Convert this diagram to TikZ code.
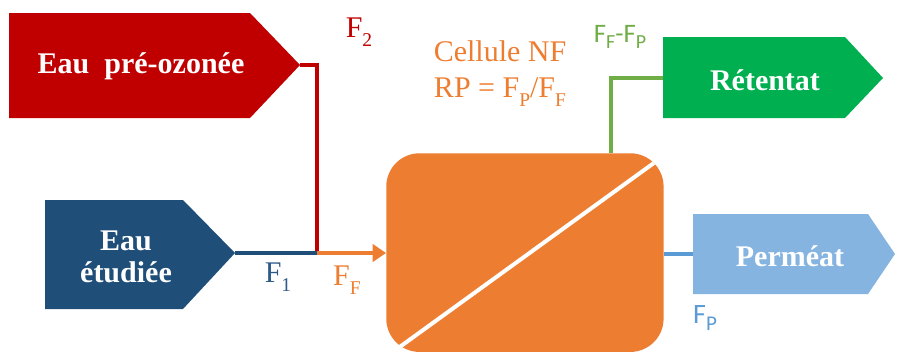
\documentclass[tikz,border=0pt]{standalone}
\usepackage{fontspec}
\setmainfont{Liberation Serif}
\newfontfamily\calfont{Carlito}
\usetikzlibrary{arrows.meta}
\definecolor{cred}{HTML}{C00000}
\definecolor{cdblue}{HTML}{1F4E79}
\definecolor{cf1}{HTML}{2E5A88}
\definecolor{corange}{HTML}{ED7D31}
\definecolor{cgreen}{HTML}{00B050}
\definecolor{clgreen}{HTML}{70AD47}
\definecolor{clblue}{HTML}{85B4E0}
\definecolor{cmblue}{HTML}{5B9BD5}
\newcommand\mysub[1]{\lower0.3em\hbox{\scalebox{0.65}{#1}}}
\newcommand\mysubs[1]{\lower0.25em\hbox{\scalebox{0.75}{#1}}}
\tikzset{
  boxtext/.style={text=white,font=\fontsize{22.5}{26}\selectfont\bfseries,align=center},
  lbl/.style={font=\fontsize{22.5}{26}\selectfont,inner sep=0pt},
  slbl/.style={font=\calfont\fontsize{20}{22}\selectfont,inner sep=0pt},
  flow/.style={line width=2.4pt},
}
\begin{document}
\begin{tikzpicture}[x=0.75pt,y=-0.75pt]
\useasboundingbox (0,0) rectangle (897,354);
% shapes
\fill[cred] (9,13) -- (250,13) -- (300,65) -- (250,118) -- (9,118) -- cycle;
\coordinate (redtip) at (300,65);
\node[boxtext] (pre) at (141,66) {Eau\ \ pré-ozonée};
\fill[cdblue] (45,200) -- (183,200) -- (235,253) -- (183,309) -- (45,309) -- cycle;
\coordinate (bluetip) at (235,253);
\node[boxtext] (etu) at (126,257) {Eau\\[-2pt]étudiée};
\fill[cgreen] (663,37) -- (845,37) -- (883,78) -- (845,118) -- (663,118) -- cycle;
\coordinate (retin) at (663,78);
\node[boxtext] (ret) at (765,80) {Rétentat};
\fill[clblue] (693,214) -- (868,214) -- (895,254) -- (868,294) -- (693,294) -- cycle;
\coordinate (permin) at (693,254);
\node[boxtext] (perm) at (790,256) {Perméat};
% cell
\node[fill=corange,rounded corners=25pt,minimum width=208pt,minimum height=149pt,inner sep=0pt,anchor=north west] (cell) at (386,153) {};
\draw[white,line width=3pt] (cell.south west) ++(12,-4) coordinate (d1) (cell.north east) ++(-10,10) coordinate (d2);
\draw[white,line width=3pt] (d1) -- (d2);
% connectors
\coordinate (junc) at (317,253);
\draw[cred,flow] (redtip) -- (redtip -| junc) -- (junc);
\draw[cdblue,flow] (bluetip) -- (junc);
\draw[corange,flow,-{Triangle[length=10pt,width=13pt]}] (junc) -- (junc -| cell.west);
\coordinate (gup) at (611,153);
\draw[clgreen,flow] (gup) -- (gup |- retin) -- (retin);
\draw[cmblue,flow] (cell.east |- permin) -- (permin);
% labels
\node[lbl,text=cred] (f2) at (359,32) {F\mysub{2}};
\node[lbl,text=cf1] (f1) at (278,277) {F\mysub{1}};
\node[lbl,text=corange] (ff) at (347,280) {F\mysub{F}};
\node[lbl,text=corange,align=center] (cellt) at (500,74) {Cellule NF\\[1pt]RP = F\mysub{P}/F\mysub{F}};
\node[slbl,text=clgreen] (ffp) at (620,37) {F\mysubs{F}-F\mysubs{P}};
\node[slbl,text=cmblue,font=\calfont\fontsize{21}{23}\selectfont] (fp) at (705,318) {F\mysubs{P}};
\end{tikzpicture}
\end{document}
